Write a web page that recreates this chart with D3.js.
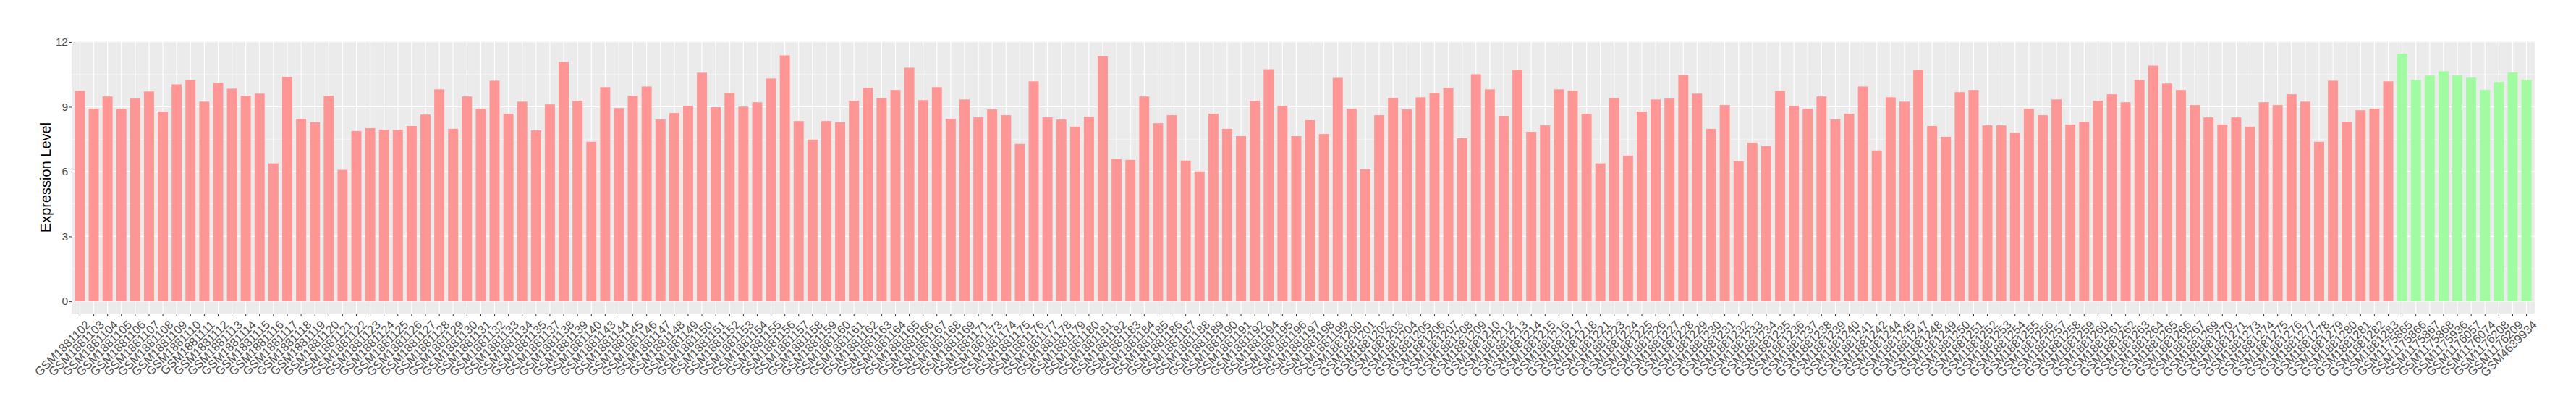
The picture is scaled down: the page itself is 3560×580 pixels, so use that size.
<!DOCTYPE html>
<html>
<head>
<meta charset="utf-8">
<script src="https://cdn.jsdelivr.net/npm/d3@7"></script>
<style>
  html, body { margin: 0; padding: 0; background: #ffffff; }
  svg { display: block; }
</style>
</head>
<body>
<div id="chart"></div>
<script>
// ---- data ----
const redSamples = [
  "GSM1881102","GSM1881103","GSM1881104","GSM1881105","GSM1881106","GSM1881107","GSM1881108","GSM1881109","GSM1881110","GSM1881111",
  "GSM1881112","GSM1881113","GSM1881114","GSM1881115","GSM1881116","GSM1881117","GSM1881118","GSM1881119","GSM1881120","GSM1881121",
  "GSM1881122","GSM1881123","GSM1881124","GSM1881125","GSM1881126","GSM1881127","GSM1881128","GSM1881129","GSM1881130","GSM1881131",
  "GSM1881132","GSM1881133","GSM1881134","GSM1881135","GSM1881137","GSM1881138","GSM1881139","GSM1881140","GSM1881143","GSM1881144",
  "GSM1881145","GSM1881146","GSM1881147","GSM1881148","GSM1881149","GSM1881150","GSM1881151","GSM1881152","GSM1881153","GSM1881154",
  "GSM1881155","GSM1881156","GSM1881157","GSM1881158","GSM1881159","GSM1881160","GSM1881161","GSM1881162","GSM1881163","GSM1881164",
  "GSM1881165","GSM1881166","GSM1881167","GSM1881168","GSM1881169","GSM1881171","GSM1881173","GSM1881174","GSM1881175","GSM1881176",
  "GSM1881177","GSM1881178","GSM1881179","GSM1881180","GSM1881181","GSM1881182","GSM1881183","GSM1881184","GSM1881185","GSM1881186",
  "GSM1881187","GSM1881188","GSM1881189","GSM1881190","GSM1881191","GSM1881192","GSM1881194","GSM1881195","GSM1881196","GSM1881197",
  "GSM1881198","GSM1881199","GSM1881200","GSM1881201","GSM1881202","GSM1881203","GSM1881204","GSM1881205","GSM1881206","GSM1881207",
  "GSM1881208","GSM1881209","GSM1881210","GSM1881212","GSM1881213","GSM1881214","GSM1881215","GSM1881216","GSM1881217","GSM1881218",
  "GSM1881221","GSM1881223","GSM1881224","GSM1881225","GSM1881226","GSM1881227","GSM1881228","GSM1881229","GSM1881230","GSM1881231",
  "GSM1881232","GSM1881233","GSM1881234","GSM1881235","GSM1881236","GSM1881237","GSM1881238","GSM1881239","GSM1881240","GSM1881241",
  "GSM1881242","GSM1881244","GSM1881245","GSM1881247","GSM1881248","GSM1881249","GSM1881250","GSM1881251","GSM1881252","GSM1881253",
  "GSM1881254","GSM1881255","GSM1881256","GSM1881257","GSM1881258","GSM1881259","GSM1881260","GSM1881261","GSM1881262","GSM1881263",
  "GSM1881264","GSM1881265","GSM1881266","GSM1881267","GSM1881269","GSM1881270","GSM1881271","GSM1881273","GSM1881274","GSM1881275",
  "GSM1881276","GSM1881277","GSM1881278","GSM1881279","GSM1881280","GSM1881281","GSM1881282","GSM1881283"
];
const redValues = [
  9.74, 8.91, 9.48, 8.91, 9.38, 9.71, 8.78, 10.04, 10.24, 9.24,
  10.11, 9.84, 9.51, 9.61, 6.38, 10.38, 8.44, 8.28, 9.51, 6.08,
  7.88, 8.01, 7.94, 7.94, 8.11, 8.64, 9.81, 7.98, 9.48, 8.91,
  10.21, 8.68, 9.24, 7.91, 9.11, 11.08, 9.28, 7.38, 9.91, 8.94,
  9.51, 9.94, 8.41, 8.71, 9.04, 10.58, 8.98, 9.64, 9.01, 9.21,
  10.31, 11.38, 8.34, 7.48, 8.34, 8.28, 9.28, 9.88, 9.41, 9.78,
  10.81, 9.31, 9.91, 8.44, 9.34, 8.51, 8.88, 8.61, 7.28, 10.18,
  8.51, 8.41, 8.08, 8.54, 11.34, 6.58, 6.54, 9.48, 8.24, 8.61,
  6.51, 6.01, 8.68, 7.98, 7.64, 9.28, 10.74, 9.04, 7.64, 8.38,
  7.74, 10.34, 8.91, 6.11, 8.61, 9.41, 8.88, 9.44, 9.64, 9.88,
  7.54, 10.51, 9.81, 8.58, 10.71, 7.84, 8.14, 9.81, 9.74, 8.68,
  6.38, 9.41, 6.74, 8.78, 9.34, 9.38, 10.48, 9.61, 7.98, 9.08,
  6.48, 7.34, 7.18, 9.74, 9.04, 8.91, 9.48, 8.41, 8.68, 9.94,
  6.98, 9.44, 9.24, 10.71, 8.11, 7.61, 9.68, 9.78, 8.14, 8.14,
  7.81, 8.91, 8.61, 9.34, 8.18, 8.31, 9.28, 9.58, 9.21, 10.24,
  10.91, 10.08, 9.78, 9.08, 8.51, 8.18, 8.51, 8.08, 9.21, 9.08,
  9.58, 9.24, 7.38, 10.21, 8.31, 8.84, 8.91, 10.18
];
const greenSamples = [
  "GSM1175865","GSM1175866","GSM1175867","GSM1175868","GSM1175936",
  "GSM1176057","GSM1176074","GSM1176208","GSM1176209","GSM4639934"
];
const greenValues = [11.46, 10.25, 10.45, 10.65, 10.45, 10.35, 9.79, 10.15, 10.59, 10.25];
const yTicks = [0, 3, 6, 9, 12];
const yMinorTicks = [1.5, 4.5, 7.5, 10.5];
const yTitle = "Expression Level";
const groupColors = { red: "#FE9696", green: "#A1FBA0" };

// ---- build rows ----
const rows = redSamples.map((s, i) => ({ sample: s, value: redValues[i], group: "red" }))
  .concat(greenSamples.map((s, i) => ({ sample: s, value: greenValues[i], group: "green" })));

// ---- layout ----
const W = 3560, H = 580;
const panel = { left: 99, right: 3503, top: 57, bottom: 433 };

const svg = d3.select("#chart").append("svg")
  .attr("width", W).attr("height", H)
  .style("font-family", "'Liberation Sans', Arial, Helvetica, sans-serif");

const maxV = d3.max(rows, d => d.value);
const pad = maxV * 0.05;
const y = d3.scaleLinear().domain([-pad, maxV + pad]).range([panel.bottom, panel.top]);

const pInner = 0.27;
const x = d3.scaleBand()
  .domain(rows.map(d => d.sample))
  .range([panel.left, panel.right])
  .paddingInner(pInner)
  .paddingOuter(0.6 - (1 - pInner) / 2);

// panel background
svg.append("rect")
  .attr("x", panel.left).attr("y", panel.top)
  .attr("width", panel.right - panel.left).attr("height", panel.bottom - panel.top)
  .attr("fill", "#EBEBEB");

// minor horizontal gridlines
svg.append("g").selectAll("line").data(yMinorTicks).join("line")
  .attr("x1", panel.left).attr("x2", panel.right)
  .attr("y1", d => y(d)).attr("y2", d => y(d))
  .attr("stroke", "#ffffff").attr("stroke-width", 0.6);

// major horizontal gridlines
svg.append("g").selectAll("line").data(yTicks).join("line")
  .attr("x1", panel.left).attr("x2", panel.right)
  .attr("y1", d => y(d)).attr("y2", d => y(d))
  .attr("stroke", "#ffffff").attr("stroke-width", 1.2);

// vertical gridlines
svg.append("g").selectAll("line").data(rows).join("line")
  .attr("x1", d => x(d.sample) + x.bandwidth() / 2)
  .attr("x2", d => x(d.sample) + x.bandwidth() / 2)
  .attr("y1", panel.top).attr("y2", panel.bottom)
  .attr("stroke", "#ffffff").attr("stroke-width", 1.2);

// bars
svg.append("g").selectAll("rect").data(rows).join("rect")
  .attr("x", d => x(d.sample))
  .attr("width", x.bandwidth())
  .attr("y", d => y(d.value))
  .attr("height", d => y(0) - y(d.value))
  .attr("fill", d => groupColors[d.group]);

// y axis
const yAxis = svg.append("g")
  .attr("transform", `translate(${panel.left},0)`)
  .call(d3.axisLeft(y).tickValues(yTicks).tickSize(3.5).tickPadding(1.5).tickFormat(d3.format("d")));
yAxis.select(".domain").remove();
yAxis.selectAll(".tick line").attr("stroke", "#333333").attr("stroke-width", 1);
yAxis.selectAll(".tick text")
  .attr("fill", "#4D4D4D")
  .style("font-size", "15.5px")
  .style("font-family", "'Liberation Sans', Arial, sans-serif");

// x axis
const xAxis = svg.append("g")
  .attr("transform", `translate(0,${panel.bottom})`)
  .call(d3.axisBottom(x).tickSize(4).tickPadding(2.5));
xAxis.select(".domain").remove();
xAxis.selectAll(".tick line").attr("stroke", "#333333").attr("stroke-width", 1);
xAxis.selectAll(".tick text")
  .attr("fill", "#4D4D4D")
  .style("font-size", "16.5px")
  .style("font-family", "'Liberation Sans', Arial, sans-serif")
  .attr("text-anchor", "end")
  .attr("dy", "0.72em")
  .attr("x", 0).attr("y", 0)
  .attr("transform", "translate(7,8) rotate(-45)");

// y axis title
svg.append("text")
  .attr("transform", `translate(65,${(panel.top + panel.bottom) / 2}) rotate(-90)`)
  .attr("text-anchor", "middle")
  .attr("dominant-baseline", "middle")
  .attr("fill", "#000000")
  .style("font-size", "20px")
  .text(yTitle);
</script>
</body>
</html>
